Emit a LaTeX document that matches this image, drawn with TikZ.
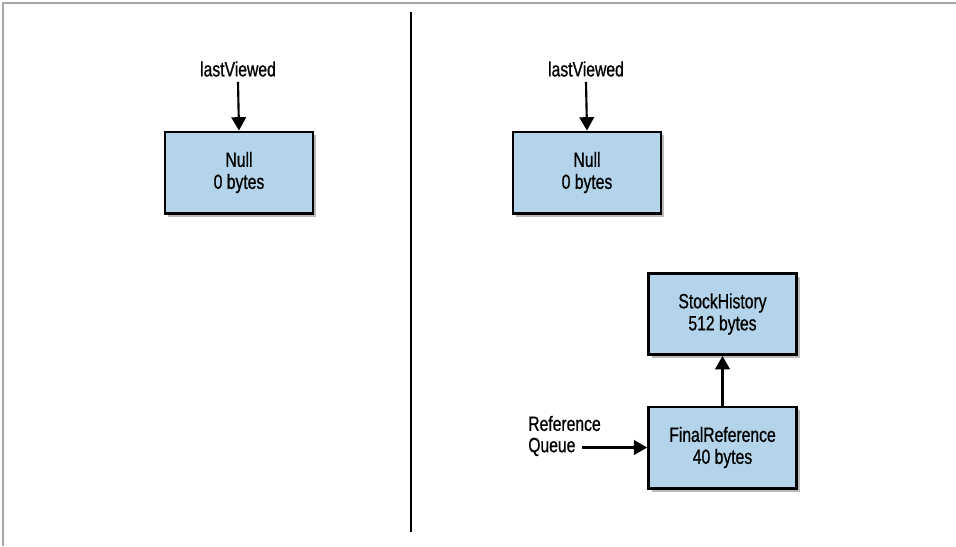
\documentclass[tikz,border=0pt]{standalone}
\usepackage{fontspec}
\setmainfont{Liberation Sans}[FakeStretch=0.76,FakeBold=0.8]
\usetikzlibrary{arrows.meta,shadows}
\definecolor{boxblue}{RGB}{179,212,234}
\tikzset{
  membox/.style={draw=black, line width=2pt, fill=boxblue, minimum width=111pt, minimum height=61pt,
    inner sep=0pt, align=center, font=\fontsize{15.5}{16.5}\selectfont,
    drop shadow={shadow xshift=2.5pt, shadow yshift=-2.5pt, opacity=0.45, fill=black!60}},
  lbl/.style={inner sep=0pt, font=\fontsize{15.5}{16}\selectfont},
  ptr/.style={line width=1.6pt, -{Triangle[width=11pt,length=10pt]}}
}
\begin{document}
\begin{tikzpicture}[x=0.75pt,y=-0.75pt]
\useasboundingbox (0,0) rectangle (956,546);
% frame lines
\coordinate (fa) at (3,546);
\coordinate (fb) at (3,3);
\coordinate (fc) at (956,3);
\draw[gray!70, line width=0.8pt] (fa) -- (fb) -- (fc);
% divider
\coordinate (d1) at (411,12);
\coordinate (d2) at (411,532);
\draw[line width=1.6pt] (d1) -- (d2);
% left side
\node[membox] (nullL) at (239,172.5) {Null\\0 bytes};
\node[lbl] (lvL) at (238,69) {lastViewed};
\draw[ptr] (lvL.south |- 0,82) -- (nullL.north);
% right side
\node[membox] (nullR) at (587,172.5) {Null\\0 bytes};
\node[lbl] (lvR) at (586,69) {lastViewed};
\draw[ptr] (lvR.south |- 0,82) -- (nullR.north);
\node[membox] (stock) at (722.5,314) {StockHistory\\512 bytes};
\node[membox] (final) at (722.5,447.5) {FinalReference\\40 bytes};
\draw[ptr] (final.north) -- (stock.south);
\node[lbl, align=left, anchor=west] (rq) at (528,436) {Reference\\Queue};
\coordinate (rqs) at (582,447.5);
\draw[ptr] (rqs) -- (final.west);
\end{tikzpicture}
\end{document}
